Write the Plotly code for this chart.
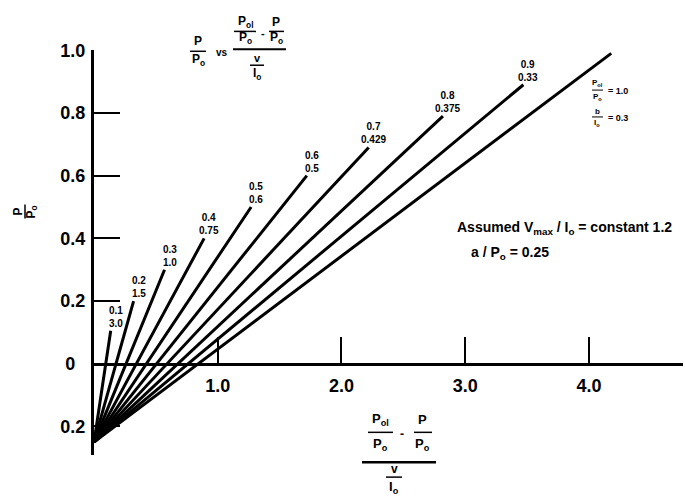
import plotly.graph_objects as go

# ---- data ----
origin_x = 0.0
origin_y = -0.25
end_x = [0.135, 0.32, 0.57, 0.89, 1.27, 1.72, 2.22, 2.82, 3.47, 4.18]
end_y = [0.105, 0.20, 0.30, 0.40, 0.50, 0.60, 0.69, 0.79, 0.89, 0.99]
label_top = ["0.1", "0.2", "0.3", "0.4", "0.5", "0.6", "0.7", "0.8", "0.9"]
label_bottom = ["3.0", "1.5", "1.0", "0.75", "0.6", "0.5", "0.429", "0.375", "0.33"]

y_tickvals = [-0.2, 0.0, 0.2, 0.4, 0.6, 0.8, 1.0]
y_ticktext = ["0.2", "0\u2007", "0.2", "0.4", "0.6", "0.8", "1.0"]
x_tickvals = [1, 2, 3, 4]
x_ticktext = ["1.0", "2.0", "3.0", "4.0"]

W, H = 685, 498
FONT = "Liberation Sans"
TOP_OFF, EFF_H = 7.5, 490.5

fig = go.Figure()
for xe, ye in zip(end_x, end_y):
    fig.add_trace(go.Scatter(x=[origin_x, xe], y=[origin_y, ye], mode="lines",
                             line=dict(color="black", width=3), showlegend=False,
                             hoverinfo="skip"))

for xe, ye, t, b in zip(end_x, end_y, label_top, label_bottom):
    fig.add_annotation(x=xe, y=ye, xref="x", yref="y", text=f"{t}<br>{b}",
                       showarrow=False, xanchor="center", yanchor="middle",
                       xshift=5, yshift=14,
                       font=dict(family=FONT, size=10, color="black", weight="bold"))


def px(x):
    return x / W


def py(y):
    return 1 - (y - TOP_OFF) / EFF_H


def txt(x, y, s, size=11, xanchor="center", angle=0):
    fig.add_annotation(x=px(x), y=py(y), xref="paper", yref="paper", text=s,
                       showarrow=False, xanchor=xanchor, yanchor="middle",
                       textangle=angle,
                       font=dict(family=FONT, size=size, color="black", weight="bold"))


def bar(x0, x1, y, w=1.5):
    fig.add_shape(type="line", xref="paper", yref="paper", x0=px(x0), x1=px(x1),
                  y0=py(y), y1=py(y), line=dict(color="black", width=w))


def vbar(x, y0, y1, w=1.5):
    fig.add_shape(type="line", xref="paper", yref="paper", x0=px(x), x1=px(x),
                  y0=py(y0), y1=py(y1), line=dict(color="black", width=w))


# title: P/P0 vs (P01/P0 - P/P0)/(v/I0)
txt(198, 39, "P", 12)
bar(190, 206, 49)
txt(198, 58, "P<sub>o</sub>", 12)
txt(222, 50, "vs", 10)
txt(245, 20, "P<sub>ol</sub>", 12)
bar(234, 256, 29)
txt(245, 36, "P<sub>o</sub>", 12)
txt(263, 31, "-", 11)
txt(276, 20, "P", 12)
bar(269, 284, 29)
txt(276, 36, "P<sub>o</sub>", 12)
bar(233, 286, 47, 2)
txt(257, 56, "v", 11)
bar(250, 264, 63)
txt(257, 72, "I<sub>o</sub>", 12)

# x-axis title
txt(380, 419, "P<sub>ol</sub>", 13)
bar(368, 393, 432)
txt(380, 444, "P<sub>o</sub>", 13)
txt(402, 434, "-", 12)
txt(422, 419, "P", 13)
bar(414, 432, 432)
txt(422, 444, "P<sub>o</sub>", 13)
bar(362, 436, 462, 2.5)
txt(394, 469, "v", 12)
bar(386, 402, 477)
txt(394, 487, "I<sub>o</sub>", 13)

# y-axis title (rotated fraction)
txt(18, 210, "P", 12, angle=-90)
vbar(25, 203, 217)
txt(32, 210, "P<sub>o</sub>", 12, angle=-90)

# right annotations
txt(597, 81, "P<sub>ol</sub>", 8)
bar(592, 603, 88, 1)
txt(597, 95, "P<sub>o</sub>", 8)
txt(618, 89, "= 1.0", 9)
txt(597, 110, "b", 8)
bar(592, 603, 115, 1)
txt(597, 121, "I<sub>o</sub>", 8)
txt(618, 116, "= 0.3", 9)

txt(564, 227, "Assumed V<sub>max</sub> / I<sub>o</sub> = constant 1.2", 14)
txt(510, 252, "a / P<sub>o</sub> = 0.25", 14)

fig.update_layout(
    width=W, height=H, autosize=False,
    margin=dict(l=0, r=0, t=0, b=0),
    paper_bgcolor="white", plot_bgcolor="white",
    showlegend=False,
    xaxis=dict(domain=[94 / W, 683 / W], range=[0, 4.76], anchor="free",
               position=py(363), showgrid=False, zeroline=False,
               showline=True, linecolor="black", linewidth=3,
               ticks="inside", ticklen=26, tickwidth=2, tickcolor="black",
               tickvals=x_tickvals, ticktext=x_ticktext, ticklabelstandoff=5,
               tickfont=dict(family=FONT, size=18, color="black", weight="bold")),
    yaxis=dict(domain=[py(454.4), py(48)], range=[-0.29, 1.0],
               anchor="x", showgrid=False, zeroline=False,
               showline=True, linecolor="black", linewidth=3,
               ticks="inside", ticklen=26, tickwidth=2, tickcolor="black",
               tickvals=y_tickvals, ticktext=y_ticktext, ticklabelstandoff=2,
               tickfont=dict(family=FONT, size=18, color="black", weight="bold")),
)

fig.write_html("out.html")
